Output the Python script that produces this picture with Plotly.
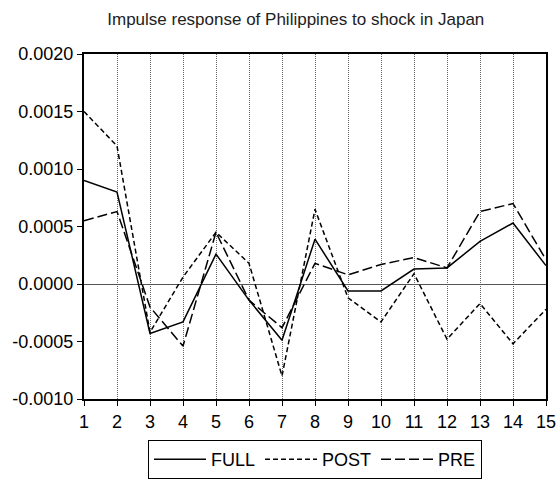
import plotly.graph_objs as go

periods = list(range(1, 16))
full = [0.00090, 0.00080, -0.00043, -0.00033, 0.00026, -0.00014, -0.00049, 0.00039,
        -0.00006, -0.00006, 0.00013, 0.00014, 0.00037, 0.00053, 0.00016]
post = [0.00150, 0.00120, -0.00042, 0.00006, 0.00045, 0.00018, -0.00080, 0.00065,
        -0.00012, -0.00033, 0.00009, -0.00048, -0.00017, -0.00052, -0.00022]
pre = [0.00055, 0.00063, -0.00020, -0.00054, 0.00045, -0.00014, -0.00038, 0.00018,
       0.00008, 0.00017, 0.00023, 0.00014, 0.00063, 0.00070, 0.00021]
ytick_vals = [-0.0010, -0.0005, 0.0, 0.0005, 0.0010, 0.0015, 0.0020]
ytick_text = ["-0.0010", "-0.0005", "0.0000", "0.0005", "0.0010", "0.0015", "0.0020"]

fig = go.Figure()
fig.add_trace(go.Scatter(x=periods, y=full, mode="lines", name="FULL",
                         line=dict(color="black", width=1.5)))
fig.add_trace(go.Scatter(x=periods, y=post, mode="lines", name="POST",
                         line=dict(color="black", width=1.5, dash="5px,3px")))
fig.add_trace(go.Scatter(x=periods, y=pre, mode="lines", name="PRE",
                         line=dict(color="black", width=1.5, dash="10px,4px")))

fig.update_layout(
    width=556, height=479,
    paper_bgcolor="white", plot_bgcolor="white",
    font=dict(family="Liberation Sans, Arial", size=18, color="black"),
    title=dict(text="Impulse response of Philippines to shock in Japan",
               x=0.532, xanchor="center", yref="container", y=0.96, yanchor="middle",
               font=dict(size=17, color="#222")),
    margin=dict(l=84, r=10, t=54, b=80, autoexpand=False),
    xaxis=dict(range=[1, 15], tickvals=periods, ticks="outside", ticklen=5,
               tickcolor="black", showline=True, linecolor="black", linewidth=2,
               mirror=True, showgrid=True, gridcolor="#666", griddash="1px,1px",
               gridwidth=1, zeroline=False, automargin=False,
               ticklabeloverflow="allow"),
    yaxis=dict(range=[-0.0010, 0.0020], tickvals=ytick_vals, ticktext=ytick_text,
               ticks="outside", ticklen=5, tickcolor="black", showline=True,
               linecolor="black", linewidth=2, mirror=True, showgrid=False,
               zeroline=True, zerolinecolor="#555", zerolinewidth=1, automargin=False),
    legend=dict(orientation="h", x=0.5, xanchor="center", yref="container",
                y=0.0, yanchor="bottom", bordercolor="black", borderwidth=1,
                font=dict(size=18), tracegroupgap=0, itemwidth=52),
    hovermode=False,
)

# drop the default 8px page margin so the figure fills the window exactly
fig.write_html("out.html", config={"displayModeBar": False},
               post_script="document.body.style.margin = '0';")
